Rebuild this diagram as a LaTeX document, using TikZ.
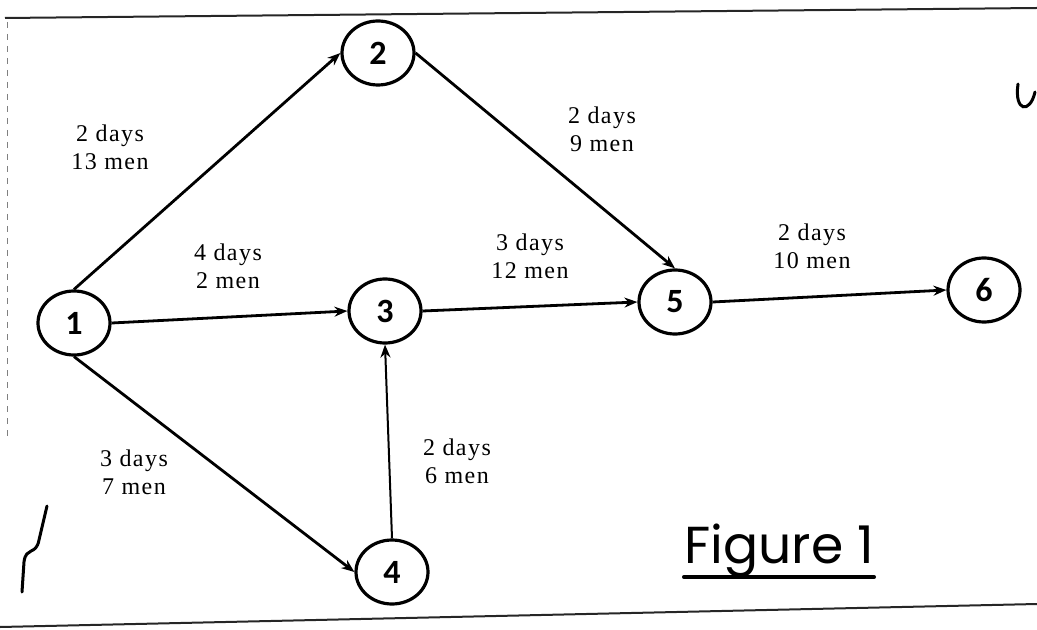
\documentclass[tikz,border=0pt]{standalone}
\usepackage{fontspec}
\setmainfont{Liberation Serif}
\newfontfamily\numfont{Carlito}
\newfontfamily\handfont{Poppins}
\usetikzlibrary{arrows.meta, shapes.geometric}

\begin{document}
\begin{tikzpicture}[
        x=0.5pt, y=-0.5pt,
        event/.style={ellipse, draw=black, line width=1.6pt, minimum width=36pt, minimum height=32pt, inner sep=0pt, font=\numfont\bfseries\fontsize{17}{17}\selectfont},
        arrow/.style={-{Stealth[length=6.5pt, width=5pt]}, line width=1.4pt},
        lbl/.style={align=center, inner sep=0pt, font=\fontsize{12}{14}\selectfont\addfontfeatures{LetterSpace=6}},
        scan/.style={line width=1pt, black!85}
    ]
        \useasboundingbox (0,0) rectangle (1037,630);

        % page edges of the scan
        \draw[scan] (5,18) -- (1037,8);
        \draw[scan] (0,627) -- (1037,604);
        \draw[scan, dashed, black!50, line width=0.5pt] (7,22) -- (7,440);

        % events
        \node[event] (n1) at (74,323) {1};
        \node[event] (n2) at (378,53) {2};
        \node[event] (n3) at (385,311) {3};
        \node[event] (n4) at (392,572) {4};
        \node[event] (n5) at (675,302) {5};
        \node[event] (n6) at (984,290) {6};

        % activities
        \draw[arrow] (n1.north) -- (n2.west);
        \draw[arrow] (n1.east) -- (n3.west);
        \draw[arrow] (n1.south) -- (n4.west);
        \draw[arrow] (n2.east) -- (n5.north);
        \draw[arrow] (n3.east) -- (n5.west);
        \draw[arrow, line width=1pt] (n4.north) -- (n3.south);
        \draw[arrow] (n5.east) -- (n6.west);

        \node[lbl] (l12) at (110,147) {2 days\\13 men};
        \node[lbl] (l13) at (228,266) {4 days\\2 men};
        \node[lbl] (l14) at (134,472) {3 days\\7 men};
        \node[lbl] (l25) at (602,129) {2 days\\9 men};
        \node[lbl] (l35) at (530,256) {3 days\\12 men};
        \node[lbl] (l43) at (457,461) {2 days\\6 men};
        \node[lbl] (l56) at (812,246) {2 days\\10 men};

        % handwritten marks
        \node[anchor=base, inner sep=0pt, font=\handfont\fontsize{26}{26}\selectfont] (fig) at (779,563) {Figure 1};
        \draw[line width=1.8pt, line cap=round] ([yshift=-7pt]fig.base west) -- ([yshift=-7pt]fig.base east);
        \draw[line width=1.5pt, line cap=round] (1018,84) .. controls (1014,112) and (1030,114) .. (1035,92);
        \draw[line width=1.5pt, line cap=round] (22,592) -- (24,562) .. controls (26,546) and (36,556) .. (39,540) -- (47,506);
    \end{tikzpicture}
\end{document}
